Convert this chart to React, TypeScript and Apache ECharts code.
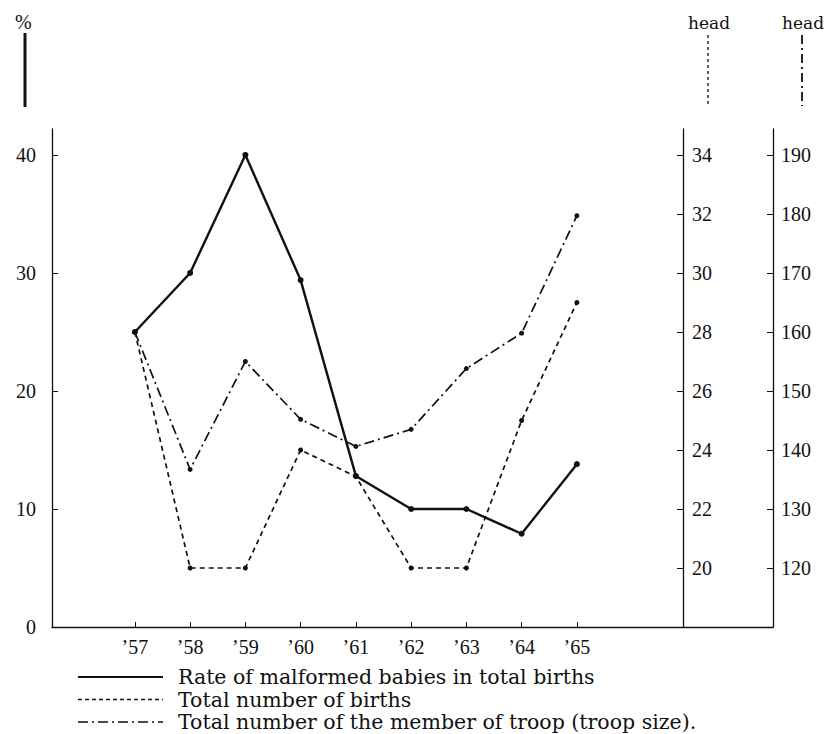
import React, { useEffect, useRef } from "react";
import * as echarts from "echarts";

const years = [57, 58, 59, 60, 61, 62, 63, 64, 65];
const malformedRate = [25, 30, 40, 29.4, 12.8, 10, 10, 7.9, 13.8];
const totalBirths = [28, 20, 20, 24, 23.1, 20, 20, 25, 29];
const troopSize = [160, 136.7, 155, 145.2, 140.6, 143.5, 153.8, 159.8, 179.7];
const rateTicks = [0, 10, 20, 30, 40];
const birthTicks = [20, 22, 24, 26, 28, 30, 32, 34];
const troopTicks = [120, 130, 140, 150, 160, 170, 180, 190];
const legendLabels = [
  "Rate of malformed babies in total births",
  "Total number of births",
  "Total number of the member of troop (troop size).",
];
const unitLabels = ["%", "head", "head"];

const NUM_FONT = "'Liberation Serif', 'Times New Roman', serif";
const TEXT_FONT = "'DejaVu Serif', serif";
const INK = "#111";

export default function App() {
  const ref = useRef<HTMLDivElement>(null);
  useEffect(() => {
    if (!ref.current) return;
    document.body.style.overflow = "hidden";
    const chart = echarts.init(ref.current, undefined, { renderer: "svg" });
    const pair = (vals: number[]) => years.map((y, i) => [y, vals[i]]);
    const numLabel = { fontFamily: NUM_FONT, fontSize: 20, color: INK };
    const axisLineStyle = { lineStyle: { color: INK, width: 1.3 } };
    const legendStyles = [
      { lineWidth: 2.2, lineDash: null as any },
      { lineWidth: 1.6, lineDash: [4, 3] },
      { lineWidth: 1.6, lineDash: [10, 4, 2, 4] },
    ];
    const option: any = {
      animation: false,
      backgroundColor: "#fff",
      grid: { left: 52, right: 55, top: 129, bottom: 107, containLabel: false },
      xAxis: {
        type: "value",
        min: 55.5,
        max: 68.55,
        splitLine: { show: false },
        axisLine: axisLineStyle,
        axisTick: { inside: true, length: 5, customValues: years, lineStyle: { color: INK } },
        axisLabel: {
          ...numLabel,
          customValues: years,
          margin: 10,
          formatter: (v: number) => "\u2019" + v,
        },
      },
      yAxis: [
        {
          type: "value",
          min: 0,
          max: 42.2,
          position: "left",
          splitLine: { show: false },
          axisLine: { show: true, ...axisLineStyle },
          axisTick: { show: true, inside: true, length: 6, customValues: rateTicks, lineStyle: { color: INK } },
          axisLabel: { ...numLabel, customValues: rateTicks, margin: 16 },
        },
        {
          type: "value",
          min: 18,
          max: 34.88,
          position: "right",
          offset: -90,
          splitLine: { show: false },
          axisLine: { show: true, ...axisLineStyle },
          axisTick: { show: true, inside: true, length: 6, customValues: birthTicks, lineStyle: { color: INK } },
          axisLabel: { ...numLabel, customValues: birthTicks, margin: 9 },
        },
        {
          type: "value",
          min: 110,
          max: 194.4,
          position: "right",
          offset: 0,
          splitLine: { show: false },
          axisLine: { show: true, ...axisLineStyle },
          axisTick: { show: true, inside: true, length: 6, customValues: troopTicks, lineStyle: { color: INK } },
          axisLabel: { ...numLabel, customValues: troopTicks, margin: 8 },
        },
      ],
      series: [
        {
          name: legendLabels[0],
          type: "line",
          yAxisIndex: 0,
          data: pair(malformedRate),
          symbol: "circle",
          symbolSize: 6,
          itemStyle: { color: INK },
          lineStyle: { color: INK, width: 2.4, type: "solid" },
          z: 4,
        },
        {
          name: legendLabels[1],
          type: "line",
          yAxisIndex: 1,
          data: pair(totalBirths),
          symbol: "circle",
          symbolSize: 5,
          itemStyle: { color: INK },
          lineStyle: { color: INK, width: 1.7, type: [5, 4] },
          z: 3,
        },
        {
          name: legendLabels[2],
          type: "line",
          yAxisIndex: 2,
          data: pair(troopSize),
          symbol: "circle",
          symbolSize: 5,
          itemStyle: { color: INK },
          lineStyle: { color: INK, width: 1.7, type: [10, 4, 2, 4] },
          z: 3,
        },
      ],
      graphic: [
        { type: "text", left: 15, top: 12, style: { text: unitLabels[0], font: `20px ${NUM_FONT}`, fill: INK } },
        { type: "line", shape: { x1: 25, y1: 33, x2: 25, y2: 107 }, style: { stroke: INK, lineWidth: 3 } },
        { type: "text", x: 709, y: 23, style: { text: unitLabels[1], font: `17px ${TEXT_FONT}`, fill: INK, align: "center", verticalAlign: "middle" } },
        { type: "line", shape: { x1: 708, y1: 35, x2: 708, y2: 106 }, style: { stroke: INK, lineWidth: 1.3, lineDash: [3, 3] } },
        { type: "text", x: 803, y: 23, style: { text: unitLabels[2], font: `17px ${TEXT_FONT}`, fill: INK, align: "center", verticalAlign: "middle" } },
        { type: "line", shape: { x1: 802, y1: 35, x2: 802, y2: 106 }, style: { stroke: INK, lineWidth: 1.8, lineDash: [9, 4, 2, 4] } },
        ...legendLabels.flatMap((label, i) => {
          const y = 677 + i * 22.5;
          return [
            {
              type: "line",
              shape: { x1: 78, y1: y, x2: 163, y2: y },
              style: { stroke: INK, lineWidth: legendStyles[i].lineWidth, lineDash: legendStyles[i].lineDash },
            },
            {
              type: "text",
              x: 178,
              y,
              style: { text: label, font: `20.5px ${TEXT_FONT}`, fill: INK, verticalAlign: "middle" },
            },
          ];
        }),
      ],
    };
    chart.setOption(option);
    return () => chart.dispose();
  }, []);
  return (
    <div
      ref={ref}
      style={{ position: "absolute", left: 0, top: 0, width: 828, height: 734 }}
    />
  );
}
